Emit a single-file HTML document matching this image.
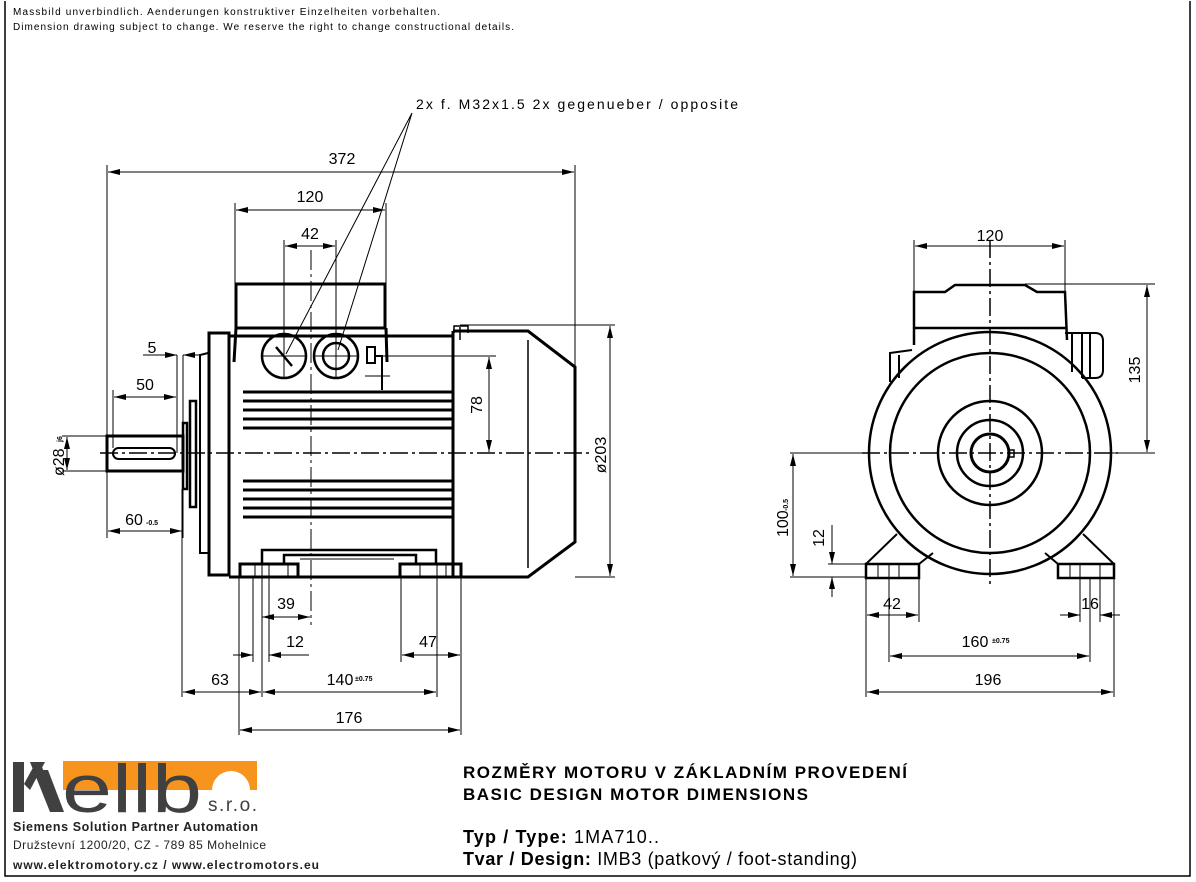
<!DOCTYPE html>
<html><head><meta charset="utf-8"><style>
html,body{margin:0;padding:0;background:#fff;}
svg{display:block;}
.t{font-family:"Liberation Sans",sans-serif;font-size:16px;fill:#000;}
.s{font-family:"Liberation Sans",sans-serif;font-size:7px;fill:#000;font-weight:bold;}
</style></head><body>
<svg width="1196" height="882" viewBox="0 0 1196 882" xmlns="http://www.w3.org/2000/svg">
<defs>
<marker id="a" viewBox="0 0 12 6" refX="12" refY="3" markerWidth="12" markerHeight="6" markerUnits="userSpaceOnUse" orient="auto-start-reverse"><path d="M0,0L12,3L0,6z" fill="#000"/></marker>
</defs>
<rect x="0" y="0" width="1196" height="882" fill="#fff"/>
<path d="M5,1V876H1190V1" fill="none" stroke="#000" stroke-width="1.5"/>
<text x="13" y="15" font-family="Liberation Sans,sans-serif" font-size="10" textLength="427">Massbild unverbindlich. Aenderungen konstruktiver Einzelheiten vorbehalten.</text>
<text x="13" y="30" font-family="Liberation Sans,sans-serif" font-size="10" textLength="501">Dimension drawing subject to change. We reserve the right to change constructional details.</text>

<!-- SIDE VIEW -->
<g fill="none" stroke="#000" stroke-width="3">
<rect x="107" y="436" width="76" height="35"/>
<rect x="113" y="448" width="62" height="11" rx="5.5" stroke-width="2"/>
<rect x="183" y="423" width="4" height="66" stroke-width="2.5"/>
<rect x="190" y="401" width="6" height="106" stroke-width="2.5"/>
<path d="M208,353L200,355L200,553L208,553" stroke-width="2"/>
<rect x="209" y="333" width="20" height="242"/>
<path d="M236,284H385V328H236Z M236,328L234,362 M386,328L387,362"/>
<path d="M229,336H453 M387,336H453"/>
<path d="M453,331V577 M453,331H528L575,367V542L528,577H453"/>
<path d="M528,340V568" stroke-width="1.5"/>
<path d="M454,333V326H468V333 M460,327V340" stroke-width="1.5"/>
<circle cx="284" cy="356" r="22" stroke-width="2.5"/>
<circle cx="336" cy="356" r="22" stroke-width="2.5"/>
<circle cx="336" cy="356" r="13" stroke-width="2.5"/>
<path d="M276,347L292,366" stroke-width="2.5"/>
<rect x="367" y="347" width="8" height="16" stroke-width="2"/>
<path d="M375,356H382V390" stroke-width="2"/>
<path d="M243,392H453M243,401H453M243,410H453M243,419H453M243,428H453M243,481H453M243,490H453M243,499H453M243,508H453M243,517H453" stroke-width="3"/>
<path d="M229,577H453"/>
<path d="M240,564H298V577H240Z M400,564H461V577H400Z"/>
<path d="M262,564V550H436V564 M284,564V555H416V564" stroke-width="2.5"/>
</g>
<g fill="none" stroke="#000" stroke-width="1">
<path d="M255,564V577M262,564V577M269,564V577M288,564V577 M420,564V577M437,564V577M446,564V577"/>
<path d="M300,559H394"/>
<path d="M100,453H590" stroke-dasharray="18,4,3,4" stroke-width="1.5"/>
<path d="M311,250V625" stroke-dasharray="20,4,3,4"/>
<path d="M262,356H306M284,334V378M314,356H358M336,334V378" stroke-width="1"/>
<path d="M365,376H390"/>
<path d="M107,165V436M575,165V367M235,203V284M386,203V284M284,240V334M336,240V334"/>
<path d="M108,172H574" marker-start="url(#a)" marker-end="url(#a)"/>
<path d="M236,210H385" marker-start="url(#a)" marker-end="url(#a)"/>
<path d="M285,246H335" marker-start="url(#a)" marker-end="url(#a)"/>
<path d="M412,113L286,354M412,113L338,350"/>
<path d="M177,355V453M183,355V436"/>
<path d="M143,355H177" marker-end="url(#a)"/><path d="M200,355H183" marker-end="url(#a)"/>
<path d="M113,390V448"/>
<path d="M114,397H176" marker-start="url(#a)" marker-end="url(#a)"/>
<path d="M62,436H107M62,471H107"/>
<path d="M67,437V470" marker-start="url(#a)" marker-end="url(#a)"/>
<path d="M107,471V538M183,489V538"/>
<path d="M108,531H182" marker-start="url(#a)" marker-end="url(#a)"/>
<path d="M382,356H496"/>
<path d="M489,357V452" marker-start="url(#a)" marker-end="url(#a)"/>
<path d="M460,325H615M575,577H615"/>
<path d="M610,326V576" marker-start="url(#a)" marker-end="url(#a)"/>
<path d="M182,489V697M239,577V735M253,577V662M262,577V697M269,577V662M401,577V662M437,577V697M461,577V735"/>
<path d="M262,617H310" marker-start="url(#a)" marker-end="url(#a)"/>
<path d="M233,655H253" marker-end="url(#a)"/><path d="M309,655H269" marker-end="url(#a)"/>
<path d="M402,655H460" marker-start="url(#a)" marker-end="url(#a)"/>
<path d="M183,692H261" marker-start="url(#a)" marker-end="url(#a)"/>
<path d="M263,692H436" marker-start="url(#a)" marker-end="url(#a)"/>
<path d="M240,730H460" marker-start="url(#a)" marker-end="url(#a)"/>
</g>
<text x="416" y="109" font-family="Liberation Sans,sans-serif" font-size="14" textLength="322">2x f. M32x1.5  2x gegenueber / opposite</text>
<g class="t" text-anchor="middle">
<text x="342" y="164">372</text>
<text x="310" y="202">120</text>
<text x="310" y="239">42</text>
<text x="152" y="353">5</text>
<text x="145" y="390">50</text>
<text x="134" y="525">60</text>
<text x="286" y="609">39</text>
<text x="295" y="647">12</text>
<text x="428" y="647">47</text>
<text x="220" y="685">63</text>
<text x="340" y="685">140</text>
<text x="349" y="723">176</text>
</g>
<text x="146" y="525" class="s">-0.5</text>
<text x="355" y="681" class="s">±0.75</text>
<text class="t" transform="translate(64,476) rotate(-90)">ø28</text>
<text class="s" transform="translate(62,442) rotate(-90)">j6</text>
<text class="t" text-anchor="middle" transform="translate(482,405) rotate(-90)">78</text>
<text class="t" text-anchor="middle" transform="translate(606,455) rotate(-90)">ø203</text>

<!-- FRONT VIEW -->
<g fill="none" stroke="#000" stroke-width="2.5">
<circle cx="990" cy="453" r="121"/>
<circle cx="990" cy="453" r="100"/>
<circle cx="990" cy="453" r="52"/>
<circle cx="990" cy="453" r="33"/>
<circle cx="990" cy="453" r="19" stroke-width="3"/>
<path d="M914,345V292H945L955,285H1025L1037,292H1065L1067,340"/>
<path d="M914,328H1066"/>
<path d="M1065,333H1095Q1103,333 1103,341V370Q1103,378 1095,378H1082" stroke-width="2"/>
<path d="M1072,333V372M1082,333V378M1090,333V378" stroke-width="2"/>
<path d="M912,350L890,353V382M899,355V378" stroke-width="2"/>
<rect x="866" y="564" width="53" height="14"/>
<rect x="1058" y="564" width="56" height="14"/>
<path d="M866,564L897,534M919,564L933,553 M1114,564L1083,534M1058,564L1045,553" stroke-width="2"/>
<rect x="1009" y="450" width="5" height="7" stroke-width="1.5"/>
</g>
<g fill="none" stroke="#000" stroke-width="1">
<path d="M878,564V577M889,564V577M899,564V577M1070,564V577M1080,564V577M1100,564V577"/>
<path d="M862,453H1118" stroke-dasharray="18,4,3,4" stroke-width="1.5"/>
<path d="M990,240V585" stroke-dasharray="18,4,3,4" stroke-width="1.5"/>
<path d="M914,240V292M1065,240V292"/>
<path d="M915,246H1064" marker-start="url(#a)" marker-end="url(#a)"/>
<path d="M1025,284H1155M1112,453H1155"/>
<path d="M1147,285V452" marker-start="url(#a)" marker-end="url(#a)"/>
<path d="M790,453H870M790,577H866M828,564H866"/>
<path d="M793,454V576" marker-start="url(#a)" marker-end="url(#a)"/>
<path d="M832,525V564" marker-end="url(#a)"/><path d="M832,597V577" marker-end="url(#a)"/>
<path d="M866,577V697M919,577V622M889,577V662M1080,577V622M1090,577V662M1100,577V622M1114,577V697"/>
<path d="M867,615H918" marker-start="url(#a)" marker-end="url(#a)"/>
<path d="M1060,615H1080" marker-end="url(#a)"/><path d="M1120,615H1100" marker-end="url(#a)"/>
<path d="M890,656H1089" marker-start="url(#a)" marker-end="url(#a)"/>
<path d="M867,692H1113" marker-start="url(#a)" marker-end="url(#a)"/>
</g>
<g class="t" text-anchor="middle">
<text x="990" y="241">120</text>
<text x="892" y="609">42</text>
<text x="1090" y="609">16</text>
<text x="975" y="647">160</text>
<text x="988" y="685">196</text>
</g>
<text x="992" y="643" class="s">±0.75</text>
<text class="t" text-anchor="middle" transform="translate(1140,370) rotate(-90)">135</text>
<text class="t" transform="translate(788,537) rotate(-90)">100</text>
<text class="s" transform="translate(788,511) rotate(-90)">-0.5</text>
<text class="t" text-anchor="middle" transform="translate(824,538) rotate(-90)">12</text>

<!-- LOGO -->
<path d="M63,761H257V790H250A19,19 0 0 0 212,790H63Z" fill="#f7941d"/>
<g fill="#404040">
<rect x="13" y="762" width="11" height="50"/>
<path d="M24,784L36,762H45L30,790Z"/>
<path d="M30,762H40L60,812H50Z"/>
<path d="M38,770H48L64,812H54Z"/>
</g>
<text x="62" y="812" font-family="Liberation Sans,sans-serif" font-size="68" fill="#404040" textLength="140" lengthAdjust="spacingAndGlyphs">ellb</text>
<text x="208" y="811" font-family="Liberation Sans,sans-serif" font-size="19" fill="#404040" textLength="49">s.r.o.</text>
<text x="13" y="831" font-family="Liberation Sans,sans-serif" font-size="12.5" font-weight="bold" fill="#222" textLength="245">Siemens Solution Partner Automation</text>
<text x="13" y="849" font-family="Liberation Sans,sans-serif" font-size="12" fill="#222" textLength="253">Družstevní 1200/20, CZ - 789 85 Mohelnice</text>
<text x="13" y="869" font-family="Liberation Sans,sans-serif" font-size="12" font-weight="bold" fill="#222" textLength="306">www.elektromotory.cz / www.electromotors.eu</text>

<g font-family="Liberation Sans,sans-serif" fill="#000">
<text x="463" y="778" font-size="17" font-weight="bold" textLength="444">ROZMĚRY MOTORU V ZÁKLADNÍM PROVEDENÍ</text>
<text x="463" y="800" font-size="17" font-weight="bold" textLength="345">BASIC DESIGN MOTOR DIMENSIONS</text>
<text x="463" y="843" font-size="18" textLength="196"><tspan font-weight="bold">Typ / Type:</tspan> 1MA710..</text>
<text x="463" y="865" font-size="18" textLength="394"><tspan font-weight="bold">Tvar / Design:</tspan> IMB3 (patkový / foot-standing)</text>
</g>
</svg>
</body></html>
